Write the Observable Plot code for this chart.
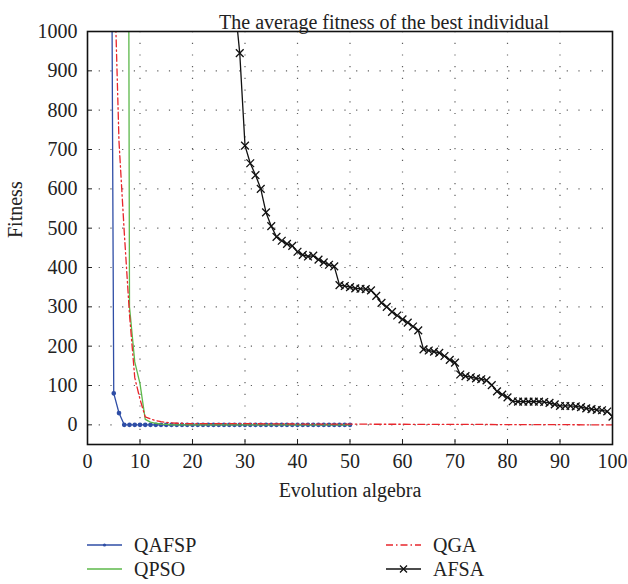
<!DOCTYPE html>
<html>
<head>
<meta charset="utf-8">
<script src="https://cdn.jsdelivr.net/npm/d3@7"></script>
<script src="https://cdn.jsdelivr.net/npm/@observablehq/plot@0.6"></script>
<style>
  body { margin: 0; background: #fff; font-family: "Liberation Serif", serif; }
  #chart svg { display: block; }
  .legend { position: relative; width: 628px; height: 74px; font-size: 20px; color: #222; }
  .item { position: absolute; height: 22px; display: flex; align-items: center; }
  .item svg { display: block; margin-right: 12px; }
</style>
</head>
<body>
<div id="chart"></div>
<div class="legend" id="legend"></div>
<script>
// Tick values
const xTicks = [0, 10, 20, 30, 40, 50, 60, 70, 80, 90, 100];
const yTicks = [0, 100, 200, 300, 400, 500, 600, 700, 800, 900, 1000];

// QAFSP: generations 4..50
const qafspGen = d3.range(4, 51);
const qafspFit = [3000, 80, 30,
  0, 0, 0, 0, 0, 0, 0, 0, 0, 0, 0, 0, 0, 0, 0, 0, 0, 0, 0, 0, 0, 0,
  0, 0, 0, 0, 0, 0, 0, 0, 0, 0, 0, 0, 0, 0, 0, 0, 0, 0, 0, 0, 0, 0];

// QPSO: generations 7..50
const qpsoGen = d3.range(7, 51);
const qpsoFit = [6000, 300, 160, 105, 14, 7, 4, 2, 1,
  0, 0, 0, 0, 0, 0, 0, 0, 0, 0, 0, 0, 0, 0, 0, 0, 0, 0, 0, 0, 0, 0,
  0, 0, 0, 0, 0, 0, 0, 0, 0, 0, 0, 0, 0, 0];

// QGA
const qgaGen = [5, 6, 7, 8, 9, 10, 11, 12, 13, 14, 15, 16, 17, 18, 19, 20,
  25, 30, 35, 40, 45, 50, 55, 60, 65, 70, 75, 80, 85, 90, 95, 100];
const qgaFit = [1200, 720, 490, 280, 120, 65, 20, 15, 11, 8, 6, 5, 4, 4, 3, 3,
  3, 3, 2.5, 2, 2, 2, 1.5, 1.5, 1, 1, 1, 0.5, 0.5, 0.5, 0, 0];

// AFSA: generations 28..100
const afsaGen = d3.range(28, 101);
const afsaFit = [1080, 945, 710, 665, 635, 600, 540, 505, 478, 468,
  460, 455, 440, 432, 428, 430, 420, 413, 407, 403,
  355, 353, 350, 347, 346, 345, 342, 328, 310, 300,
  287, 278, 268, 260, 250, 240, 192, 189, 186, 183,
  175, 165, 158, 128, 124, 121, 118, 116, 113, 101,
  85, 77, 70, 60, 59, 59, 59, 59, 59, 58,
  56, 52, 48, 48, 48, 47, 45, 42, 40, 38,
  37, 34, 21];

const series = [
  {name: "QAFSP", gen: qafspGen, fit: qafspFit, color: "#2f4ea6", dash: null, marker: "dot"},
  {name: "QPSO", gen: qpsoGen, fit: qpsoFit, color: "#5cb84a", dash: null, marker: null},
  {name: "QGA", gen: qgaGen, fit: qgaFit, color: "#e8262c", dash: "7,3,1.5,3", marker: null},
  {name: "AFSA", gen: afsaGen, fit: afsaFit, color: "#111111", dash: null, marker: "times"}
];

const rows = s => s.gen.map((g, i) => ({gen: g, fit: s.fit[i]}));

const marks = [
  Plot.gridX(xTicks.slice(1, -1), {stroke: "#444", strokeOpacity: 0.85, strokeWidth: 1.2, strokeDasharray: "1.2,10.5"}),
  Plot.gridY(yTicks.slice(0, -1), {stroke: "#444", strokeOpacity: 0.85, strokeWidth: 1.2, strokeDasharray: "1.2,10.5"}),
  Plot.axisX({ticks: xTicks, tickSize: -5, tickPadding: 14, tickFormat: d => String(d), label: null}),
  Plot.axisY({ticks: yTicks, tickSize: -5, tickPadding: 15, tickFormat: d => String(d), label: null}),
];

for (const s of series) {
  const data = rows(s);
  marks.push(Plot.line(data, {x: "gen", y: "fit", stroke: s.color, strokeWidth: 1.3,
    strokeDasharray: s.dash, clip: true}));
  if (s.marker === "dot") {
    marks.push(Plot.dot(data, {x: "gen", y: "fit", r: 1.6, fill: s.color, stroke: s.color, clip: true}));
  } else if (s.marker === "times") {
    marks.push(Plot.dot(data, {x: "gen", y: "fit", r: 3.6, symbol: "times", stroke: s.color, strokeWidth: 1.3, clip: true}));
  }
}

marks.push(
  Plot.frame({stroke: "#111", strokeWidth: 1.6}),
  Plot.text(["The average fitness of the best individual"], {text: d => d, frameAnchor: "top", dy: -17, dx: 34, fontSize: 20, fill: "#222"}),
  Plot.text(["Fitness"], {text: d => d, frameAnchor: "left", rotate: -90, dx: -72, fontSize: 20, fill: "#222"}),
  Plot.text(["Evolution algebra"], {text: d => d, frameAnchor: "bottom", dy: 52, fontSize: 20, fill: "#222"})
);

const chart = Plot.plot({
  width: 628,
  height: 510,
  marginLeft: 87,
  marginRight: 16,
  marginTop: 31,
  marginBottom: 66,
  x: {domain: [0, 100]},
  y: {domain: [-50, 1000]},
  style: {fontFamily: "Liberation Serif", fontSize: "20px", color: "#222", background: "#fff"},
  marks
});
document.getElementById("chart").appendChild(chart);

// Legend below the chart, two columns
const legendPos = [
  {left: 87, top: 24}, {left: 87, top: 48}, {left: 386, top: 24}, {left: 386, top: 48}
];
const legend = d3.select("#legend");
series.forEach((s, i) => {
  const item = legend.append("div").attr("class", "item")
    .style("left", legendPos[i].left + "px").style("top", legendPos[i].top + "px");
  const sw = item.append("svg").attr("width", 35).attr("height", 22);
  sw.append("line").attr("x1", 0).attr("x2", 35).attr("y1", 11).attr("y2", 11)
    .attr("stroke", s.color).attr("stroke-width", 1.3)
    .attr("stroke-dasharray", s.dash);
  if (s.marker === "dot") {
    sw.append("circle").attr("cx", 17.5).attr("cy", 11).attr("r", 1.6).attr("fill", s.color);
  } else if (s.marker === "times") {
    sw.append("path").attr("d", "M14,7.5L21,14.5M14,14.5L21,7.5").attr("stroke", s.color).attr("stroke-width", 1.3);
  }
  item.append("span").text(s.name);
});
</script>
</body>
</html>
